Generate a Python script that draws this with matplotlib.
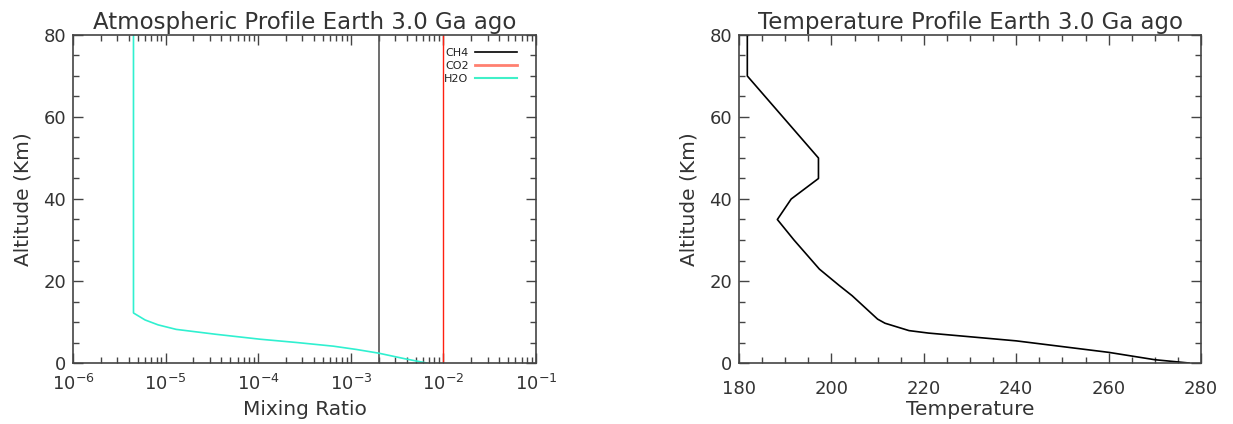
import matplotlib
matplotlib.use("Agg")
import matplotlib.pyplot as plt
from matplotlib.ticker import MultipleLocator, LogLocator
from matplotlib.lines import Line2D

# ---- data ----
h2o_alt = [0.0, 1.0, 2.4, 3.3, 4.1, 5.0, 5.8, 7.0, 8.2, 9.3, 10.5, 12.2, 20.0, 40.0, 60.0, 80.0]
h2o_mix = [6.6e-3, 3.9e-3, 2.0e-3, 1.15e-3, 6.5e-4, 2.6e-4, 1.05e-4, 3.5e-5, 1.3e-5, 8.3e-6, 6.0e-6, 4.5e-6,
           4.5e-6, 4.5e-6, 4.5e-6, 4.5e-6]
ch4_mix = 2.0e-3
co2_mix = 1.0e-2
alt_range = [0.0, 80.0]

temp_alt = [0.0, 0.8, 2.6, 4.0, 5.4, 6.4, 7.3, 7.9, 9.7, 10.7, 16.4, 18.9, 22.9, 30.0, 35.0, 40.0, 45.0, 50.0, 70.0, 80.0]
temp_val = [277.4, 270.0, 260.0, 250.0, 240.0, 230.0, 221.0, 216.8, 211.6, 210.0, 204.5, 201.7, 197.4, 191.9,
            188.3, 191.3, 197.2, 197.2, 181.8, 181.8]

legend_labels = ["CH4", "CO2", "H2O"]
title_left = "Atmospheric Profile Earth 3.0 Ga ago"
title_right = "Temperature Profile Earth 3.0 Ga ago"

# ---- style ----
plt.rcParams['font.family'] = ['DejaVu Sans']
axcol = '#444444'
txtcol = '#333333'

fig = plt.figure(figsize=(12.33, 4.24), dpi=100)
W, H = 1233.0, 424.0
ax1 = fig.add_axes([73 / W, (H - 363) / H, 463 / W, 328 / H])
ax2 = fig.add_axes([739 / W, (H - 363) / H, 462 / W, 328 / H])

for ax in (ax1, ax2):
    for s in ax.spines.values():
        s.set_color(axcol)
        s.set_linewidth(1.2)
    ax.tick_params(which='both', direction='in', top=True, right=True,
                   colors=axcol, labelcolor=txtcol, labelsize=13)
    ax.tick_params(which='major', length=7, width=1.0)
    ax.tick_params(which='minor', length=4, width=1.0)
    ax.tick_params(axis='y', pad=5)
    ax.set_ylim(0, 80)
    ax.yaxis.set_major_locator(MultipleLocator(20))
    ax.yaxis.set_minor_locator(MultipleLocator(5))
    ax.set_ylabel("Altitude (Km)", fontsize=14.5, color=txtcol, labelpad=8)

# left panel
ax1.set_xscale('log')
ax1.set_xlim(1e-6, 1e-1)
ax1.xaxis.set_major_locator(LogLocator(base=10, numticks=10))
ax1.xaxis.set_minor_locator(LogLocator(base=10, subs=range(2, 10), numticks=20))
ax1.tick_params(axis='x', pad=8)
ax1.plot([ch4_mix, ch4_mix], alt_range, color='#555555', lw=1.2)
ax1.plot([co2_mix, co2_mix], alt_range, color='#ff2010', lw=1.0)
ax1.plot(h2o_mix, h2o_alt, color='#30f0d0', lw=1.2)
ax1.set_xlabel("Mixing Ratio", fontsize=14.5, color=txtcol, labelpad=4)
ax1.set_title(title_left, fontsize=16.5, color=txtcol, pad=4)

handles = [Line2D([], [], color='black', lw=1.2),
           Line2D([], [], color='#ff8070', lw=2.0),
           Line2D([], [], color='#40f0c8', lw=1.5)]
leg = ax1.legend(handles, legend_labels, loc='upper right', bbox_to_anchor=(0.96, 0.96),
                 frameon=False, fontsize=8, markerfirst=False, handlelength=3.8,
                 handletextpad=0.6, labelspacing=0.25, borderpad=0, borderaxespad=0)
for t in leg.get_texts():
    t.set_color('#222222')

# right panel
ax2.set_xlim(180, 280)
ax2.xaxis.set_major_locator(MultipleLocator(20))
ax2.xaxis.set_minor_locator(MultipleLocator(5))
ax2.tick_params(axis='x', pad=12)
ax2.plot(temp_val, temp_alt, color='black', lw=1.2)
ax2.set_xlabel("Temperature", fontsize=14.5, color=txtcol, labelpad=2)
ax2.set_title(title_right, fontsize=16.5, color=txtcol, pad=4)

fig.savefig("out.png", dpi=100)
